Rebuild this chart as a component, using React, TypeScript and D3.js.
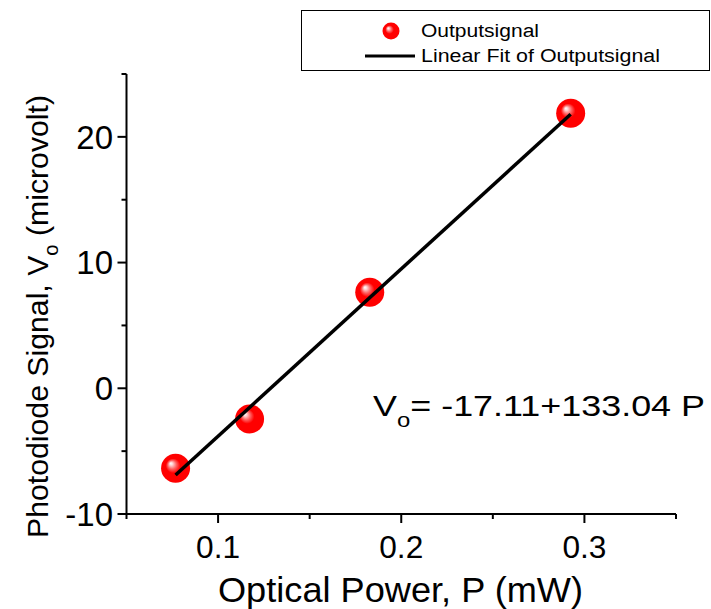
import * as d3 from "d3";
import { useEffect, useRef } from "react";

// measured data points (optical power in mW, signal in microvolt)
const POWER = [0.0768, 0.1172, 0.1828, 0.2925];
const SIGNAL = [-6.36, -2.44, 7.64, 21.88];

// linear fit coefficients, as printed on the chart
const FIT_INTERCEPT = -17.11;
const FIT_SLOPE = 133.04;

const X_MAJOR = [0.1, 0.2, 0.3];
const X_MINOR = [0.05, 0.15, 0.25, 0.35];
const Y_MAJOR = [-10, 0, 10, 20];
const Y_MINOR = [-5, 5, 15, 25];

const LEGEND = ["Outputsignal", "Linear Fit of Outputsignal"];
const LEGEND_WIDTHS = [118, 239];

const FONT = "'Liberation Sans', Arial, sans-serif";

export default function App() {
  const ref = useRef<SVGSVGElement | null>(null);

  useEffect(() => {
    const svg = d3.select(ref.current);
    svg.selectAll("*").remove();

    const width = 711;
    const height = 609;
    svg.attr("width", width).attr("height", height);

    const x = d3.scaleLinear().domain([0.05, 0.35]).range([126.5, 676]);
    const y = d3.scaleLinear().domain([-10, 25]).range([514, 74]);

    const defs = svg.append("defs");
    const grad = defs
      .append("radialGradient")
      .attr("id", "ball")
      .attr("cx", "0.5")
      .attr("cy", "0.5")
      .attr("r", "0.5")
      .attr("fx", "0.33")
      .attr("fy", "0.33");
    grad.append("stop").attr("offset", "0").attr("stop-color", "#ffffff");
    grad.append("stop").attr("offset", "0.1").attr("stop-color", "#ffd8d8");
    grad.append("stop").attr("offset", "0.3").attr("stop-color", "#ff6060");
    grad.append("stop").attr("offset", "0.5").attr("stop-color", "#ff0000");
    grad.append("stop").attr("offset", "1").attr("stop-color", "#ff0000");

    svg.append("rect").attr("width", width).attr("height", height).attr("fill", "#fff");

    // axes
    const axisColor = "#000";
    svg
      .append("line")
      .attr("x1", x(0.05))
      .attr("x2", x(0.05))
      .attr("y1", y(25))
      .attr("y2", y(-10))
      .attr("stroke", axisColor)
      .attr("stroke-width", 2);
    svg
      .append("line")
      .attr("x1", x(0.05))
      .attr("x2", x(0.35))
      .attr("y1", y(-10))
      .attr("y2", y(-10))
      .attr("stroke", axisColor)
      .attr("stroke-width", 2);

    X_MAJOR.forEach((t) => {
      svg
        .append("line")
        .attr("x1", x(t))
        .attr("x2", x(t))
        .attr("y1", y(-10))
        .attr("y2", y(-10) + 9)
        .attr("stroke", axisColor)
        .attr("stroke-width", 2);
      svg
        .append("text")
        .attr("x", x(t))
        .attr("y", 558)
        .attr("text-anchor", "middle")
        .attr("font-family", FONT)
        .attr("font-size", 32)
        .attr("textLength", 44)
        .attr("lengthAdjust", "spacingAndGlyphs")
        .text(String(t));
    });
    X_MINOR.forEach((t) => {
      svg
        .append("line")
        .attr("x1", x(t))
        .attr("x2", x(t))
        .attr("y1", y(-10))
        .attr("y2", y(-10) + 5)
        .attr("stroke", axisColor)
        .attr("stroke-width", 2);
    });

    Y_MAJOR.forEach((t) => {
      svg
        .append("line")
        .attr("x1", x(0.05) - 9)
        .attr("x2", x(0.05))
        .attr("y1", y(t))
        .attr("y2", y(t))
        .attr("stroke", axisColor)
        .attr("stroke-width", 2);
      svg
        .append("text")
        .attr("x", 113)
        .attr("y", y(t))
        .attr("dy", "0.36em")
        .attr("text-anchor", "end")
        .attr("font-family", FONT)
        .attr("font-size", 33)
        .text(String(t));
    });
    Y_MINOR.forEach((t) => {
      svg
        .append("line")
        .attr("x1", x(0.05) - 5)
        .attr("x2", x(0.05))
        .attr("y1", y(t))
        .attr("y2", y(t))
        .attr("stroke", axisColor)
        .attr("stroke-width", 2);
    });

    // axis titles
    svg
      .append("text")
      .attr("x", 218)
      .attr("y", 602)
      .attr("font-family", FONT)
      .attr("font-size", 35)
      .attr("textLength", 365)
      .attr("lengthAdjust", "spacingAndGlyphs")
      .text("Optical Power, P (mW)");

    const yt = svg
      .append("text")
      .attr("transform", "translate(48,538) rotate(-90)")
      .attr("font-family", FONT)
      .attr("font-size", 30)
      .attr("textLength", 443)
      .attr("lengthAdjust", "spacingAndGlyphs");
    yt.append("tspan").text("Photodiode Signal, V");
    yt.append("tspan").attr("font-size", 20).attr("dy", 10).text("o");
    yt.append("tspan").attr("dy", -10).text(" (microvolt)");

    // fit line
    const xs = d3.extent(POWER) as [number, number];
    const line = d3
      .line<number>()
      .x((p) => x(p))
      .y((p) => y(FIT_INTERCEPT + FIT_SLOPE * p));

    // points
    svg
      .selectAll("circle.pt")
      .data(POWER)
      .enter()
      .append("circle")
      .attr("class", "pt")
      .attr("cx", (p) => x(p))
      .attr("cy", (_, i) => y(SIGNAL[i]))
      .attr("r", 14.5)
      .attr("fill", "url(#ball)");

    svg
      .append("path")
      .attr("d", line(xs) ?? "")
      .attr("fill", "none")
      .attr("stroke", "#000")
      .attr("stroke-width", 3.5);

    // equation
    const eq = svg
      .append("text")
      .attr("x", 373)
      .attr("y", 416)
      .attr("font-family", FONT)
      .attr("font-size", 30)
      .attr("textLength", 332)
      .attr("lengthAdjust", "spacingAndGlyphs");
    eq.append("tspan").text("V");
    eq.append("tspan").attr("font-size", 20).attr("dy", 11).text("o");
    eq.append("tspan").attr("dy", -11).text(`= ${FIT_INTERCEPT}+${FIT_SLOPE} P`);

    // legend
    const lg = svg.append("g");
    lg.append("rect")
      .attr("x", 301.5)
      .attr("y", 10.5)
      .attr("width", 408)
      .attr("height", 60)
      .attr("fill", "#fff")
      .attr("stroke", "#000")
      .attr("stroke-width", 1);
    lg.append("circle").attr("cx", 391).attr("cy", 31).attr("r", 8.5).attr("fill", "url(#ball)");
    lg.append("line")
      .attr("x1", 365)
      .attr("x2", 415)
      .attr("y1", 56)
      .attr("y2", 56)
      .attr("stroke", "#000")
      .attr("stroke-width", 3);
    LEGEND.forEach((label, i) => {
      lg.append("text")
        .attr("x", 421)
        .attr("y", 31 + i * 25)
        .attr("dy", "0.36em")
        .attr("font-family", FONT)
        .attr("font-size", 18)
        .attr("textLength", LEGEND_WIDTHS[i])
        .attr("lengthAdjust", "spacingAndGlyphs")
        .text(label);
    });
  }, []);

  return <svg ref={ref} style={{ position: "absolute", left: 0, top: 0 }} />;
}
